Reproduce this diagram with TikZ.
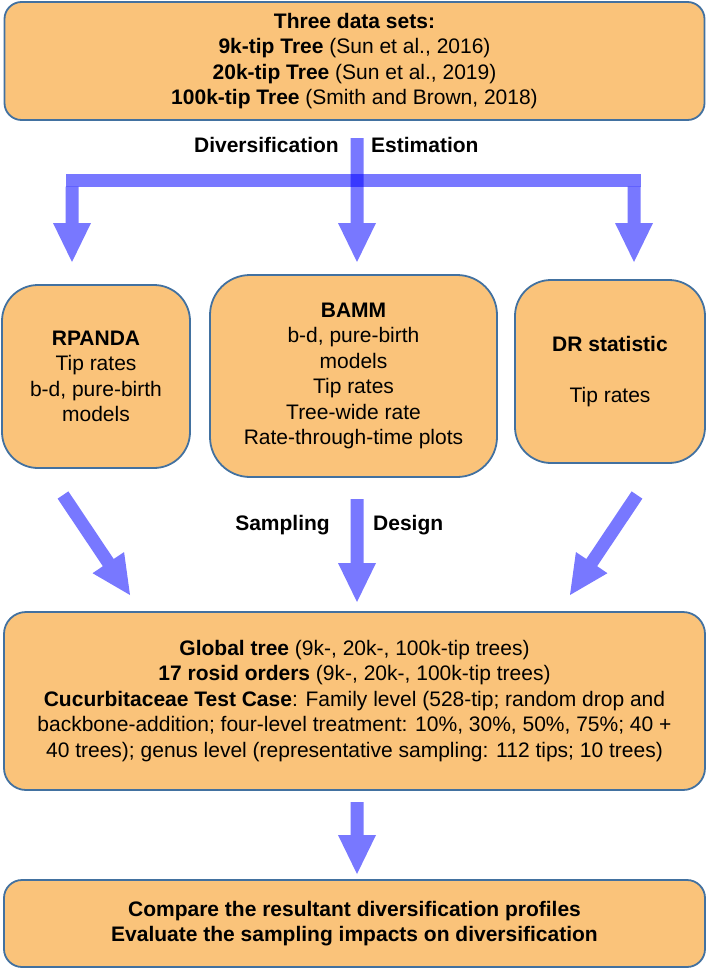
\documentclass[tikz,border=0pt]{standalone}
\usepackage{fontspec}
\setmainfont{Liberation Sans}
\usetikzlibrary{calc}
\definecolor{boxfill}{RGB}{250,195,122}
\definecolor{boxline}{RGB}{66,113,160}
\definecolor{arrowblue}{RGB}{0,0,255}
\begin{document}
\begin{tikzpicture}[x=1pt,y=-1pt,
  box/.style={draw=boxline, fill=boxfill, line width=1.8pt, align=center,
    inner sep=0pt, font=\fontsize{21}{25.5}\selectfont},
  fatarrow/.style={fill=arrowblue, fill opacity=0.53, draw=none,
    to path={
      ($(\tikztostart)!6.5pt!90:(\tikztotarget)$)
      -- ($($(\tikztotarget)!39pt!(\tikztostart)$)!6.5pt!90:(\tikztotarget)$)
      -- ($($(\tikztotarget)!39pt!(\tikztostart)$)!19pt!90:(\tikztotarget)$)
      -- (\tikztotarget)
      -- ($($(\tikztotarget)!39pt!(\tikztostart)$)!19pt!-90:(\tikztotarget)$)
      -- ($($(\tikztotarget)!39pt!(\tikztostart)$)!6.5pt!-90:(\tikztotarget)$)
      -- ($(\tikztostart)!6.5pt!-90:(\tikztotarget)$) -- cycle}},
  barline/.style={fill=arrowblue, fill opacity=0.53, draw=none},
  lbl/.style={font=\bfseries\fontsize{21}{25.5}\selectfont, inner sep=0pt}]
\useasboundingbox (0,0) rectangle (709,969);

% boxes
\node[box, rounded corners=17pt, minimum width=700pt, minimum height=118pt] (top) at (354.5,61)
  {\textbf{Three data sets:}\\
   \textbf{9k-tip Tree} (Sun et al., 2016)\\
   \textbf{20k-tip Tree} (Sun et al., 2019)\\
   \textbf{100k-tip Tree} (Smith and Brown, 2018)};

\node[box, rounded corners=36pt, minimum width=188pt, minimum height=183pt] (rp) at (96,376.5)
  {\textbf{RPANDA}\\ Tip rates\\ b-d, pure-birth\\ models};

\node[box, rounded corners=40pt, minimum width=287pt, minimum height=202pt] (bamm) at (353.5,376)
  {\textbf{BAMM}\\ b-d, pure-birth\\ models\\ Tip rates\\ Tree-wide rate\\ Rate-through-time plots};

\node[box, rounded corners=36pt, minimum width=190pt, minimum height=183pt] (dr) at (610,371.5)
  {\textbf{DR statistic}\\[25.5pt] Tip rates};

\node[box, rounded corners=22pt, minimum width=701pt, minimum height=178pt] (big) at (354.5,701)
  {\textbf{Global tree} (9k-, 20k-, 100k-tip trees)\\
   \textbf{17 rosid orders} (9k-, 20k-, 100k-tip trees)\\
   \textbf{Cucurbitaceae Test Case}: Family level (528-tip; random drop and\\
   backbone-addition; four-level treatment: 10\%, 30\%, 50\%, 75\%; 40 +\\
   40 trees); genus level (representative sampling: 112 tips; 10 trees)};

\node[box, rounded corners=18pt, minimum width=701pt, minimum height=87pt] (bot) at (354.5,923.5)
  {\textbf{Compare the resultant diversification profiles}\\
   \textbf{Evaluate the sampling impacts on diversification}};

% labels
\node[lbl, anchor=east] (div) at (339,145) {Diversification};
\node[lbl, anchor=west] (est) at (371,145) {Estimation};
\node[lbl, anchor=east] (samp) at (330,525) {Sampling};
\node[lbl, anchor=west] (des) at (373,525) {Design};

% arrow coordinates
\coordinate (stemtop) at (357,138);
\coordinate (barL) at (65.5,173.5);
\coordinate (barR) at (640.5,186.5);
\coordinate (lefttop) at (72,186.5);
\coordinate (righttop) at (634,186.5);
\coordinate (tipL) at (72,262);
\coordinate (tipM) at (357,262);
\coordinate (tipR) at (634,262);
\coordinate (dl0) at (63,495);
\coordinate (dl1) at (130,595);
\coordinate (dr0) at (637,495);
\coordinate (dr1) at (570,595);
\coordinate (dm0) at (357,499);
\coordinate (dm1) at (357,602);
\coordinate (bm0) at (357,802);
\coordinate (bm1) at (357,874);

% arrows
\fill[barline] (barL) rectangle (barR);
\path[fatarrow] (stemtop) to (tipM);
\path[fatarrow] (lefttop) to (tipL);
\path[fatarrow] (righttop) to (tipR);
\path[fatarrow] (dl0) to (dl1);
\path[fatarrow] (dr0) to (dr1);
\path[fatarrow] (dm0) to (dm1);
\path[fatarrow] (bm0) to (bm1);
\end{tikzpicture}
\end{document}
